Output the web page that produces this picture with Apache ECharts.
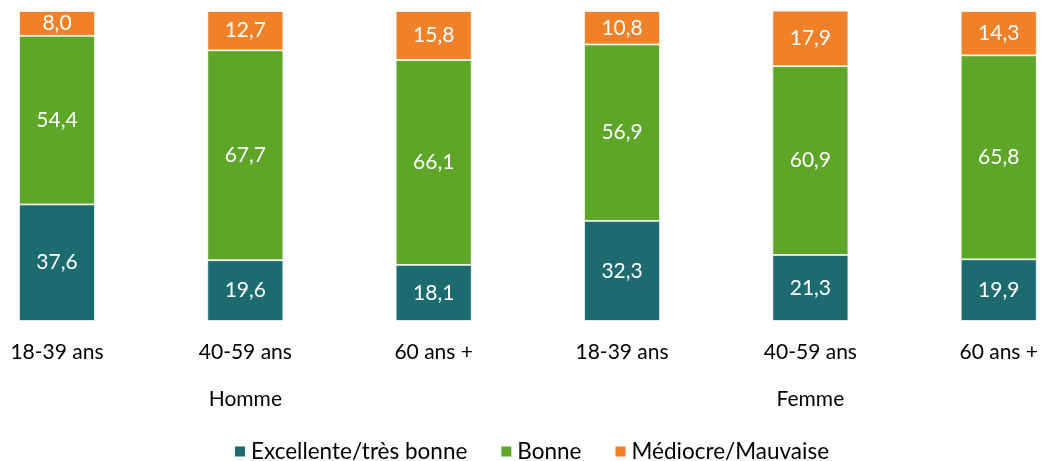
<!DOCTYPE html>
<html>
<head>
<meta charset="utf-8">
<script src="https://cdn.jsdelivr.net/npm/echarts@6/dist/echarts.min.js"></script>
<style>
  html, body { margin: 0; padding: 0; background: #fff; }
  #chart { width: 1041px; height: 461px; }
</style>
</head>
<body>
<div id="chart"></div>
<script>
// Age groups, repeated for each sex
const ageGroups = ['18-39 ans', '40-59 ans', '60 ans +', '18-39 ans', '40-59 ans', '60 ans +'];
const sexes = ['Homme', 'Femme'];

// Self-rated health, in % of each group
const excellente = [37.6, 19.6, 18.1, 32.3, 21.3, 19.9];
const bonne      = [54.4, 67.7, 66.1, 56.9, 60.9, 65.8];
const mediocre   = [8.0, 12.7, 15.8, 10.8, 17.9, 14.3];

const seriesNames = ['Excellente/très bonne', 'Bonne', 'Médiocre/Mauvaise'];
const colors = ['#1C6B6F', '#5EA628', '#F08129'];

const FONT = 'Lato, "Open Sans", sans-serif';

const fmt = v => v.toFixed(1).replace('.', ',');

// Sex label sits under the middle age group of its three bars
const groupLabels = ageGroups.map((_, i) => (i % 3 === 1 ? sexes[Math.floor(i / 3)] : ''));

function barSeries(name, data, color) {
  return {
    name: name,
    type: 'bar',
    stack: 'total',
    data: data,
    barWidth: 76,
    itemStyle: { color: color, borderColor: '#ffffff', borderWidth: 0.8 },
    label: {
      show: true,
      position: 'inside',
      color: '#ffffff',
      fontFamily: FONT,
      fontSize: 21,
      formatter: p => fmt(p.value)
    }
  };
}

const axisCommon = {
  type: 'category',
  boundaryGap: false,
  position: 'bottom',
  axisLine: { show: false },
  axisTick: { show: false },
  splitLine: { show: false }
};

const chart = echarts.init(document.getElementById('chart'), null, { renderer: 'canvas' });
chart.setOption({
  animation: false,
  backgroundColor: '#ffffff',
  color: colors,
  grid: { left: 57, right: 41, top: 11, bottom: 140, containLabel: false },
  legend: {
    left: 228,
    top: 435,
    itemWidth: 12,
    itemHeight: 12,
    itemGap: 32,
    icon: 'rect',
    textStyle: { fontFamily: FONT, fontSize: 22.5, color: '#000' },
    data: seriesNames
  },
  xAxis: [
    Object.assign({}, axisCommon, {
      data: ageGroups,
      axisLabel: { fontFamily: FONT, fontSize: 21, color: '#000', margin: 21, interval: 0 }
    }),
    Object.assign({}, axisCommon, {
      data: groupLabels,
      offset: 68,
      axisLabel: { fontFamily: FONT, fontSize: 21, color: '#000', margin: 0, interval: 0 }
    })
  ],
  yAxis: {
    type: 'value',
    min: 0,
    max: 100,
    show: false,
    splitLine: { show: false }
  },
  series: [
    barSeries(seriesNames[0], excellente, colors[0]),
    barSeries(seriesNames[1], bonne, colors[1]),
    barSeries(seriesNames[2], mediocre, colors[2])
  ]
});
</script>
</body>
</html>
